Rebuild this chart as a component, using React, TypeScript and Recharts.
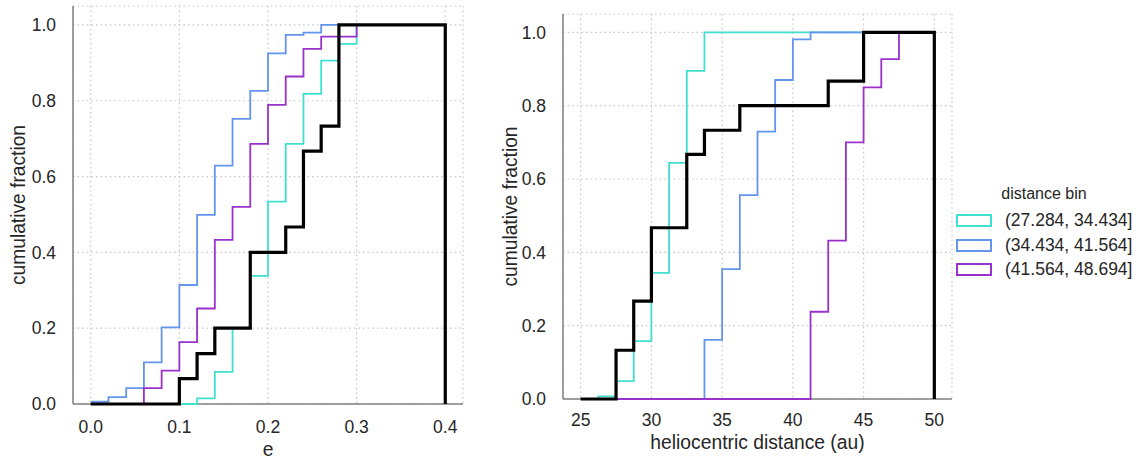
import { CartesianGrid, Line, LineChart, XAxis, YAxis } from "recharts";

// eccentricity bin edges (left panel)
const eEdges = [
  0, 0.02, 0.04, 0.06, 0.08, 0.1, 0.12, 0.14, 0.16, 0.18, 0.2, 0.22, 0.24,
  0.26, 0.28, 0.3, 0.32, 0.34, 0.36, 0.38, 0.4,
];
const eAll = [
  0, 0, 0, 0, 0, 0.067, 0.133, 0.2, 0.2, 0.4, 0.4, 0.467, 0.667, 0.733, 1, 1,
  1, 1, 1, 1,
];
const eNear = [
  0, 0, 0, 0, 0, 0, 0.015, 0.085, 0.2, 0.338, 0.534, 0.686, 0.818, 0.906,
  0.95, 1,
];
const eMid = [
  0.006, 0.018, 0.042, 0.11, 0.202, 0.314, 0.499, 0.629, 0.752, 0.826, 0.925,
  0.974, 0.98, 1, 1, 1,
];
const eFar = [
  0, 0, 0, 0.042, 0.088, 0.163, 0.252, 0.433, 0.52, 0.686, 0.789, 0.864,
  0.937, 0.969, 0.969, 1,
];

// heliocentric distance bin edges (right panel)
const dEdges = [
  25, 26.25, 27.5, 28.75, 30, 31.25, 32.5, 33.75, 35, 36.25, 37.5, 38.75, 40,
  41.25, 42.5, 43.75, 45, 46.25, 47.5, 48.75, 50,
];
const dAll = [
  0, 0, 0.133, 0.267, 0.467, 0.467, 0.667, 0.733, 0.733, 0.8, 0.8, 0.8, 0.8,
  0.8, 0.867, 0.867, 1, 1, 1, 1,
];
const dNear = [
  0, 0.007, 0.049, 0.158, 0.344, 0.644, 0.895, 1, 1, 1, 1, 1, 1, 1, 1, 1, 1,
  1, 1,
];
const dMid = [
  0, 0, 0, 0, 0, 0, 0, 0.161, 0.354, 0.556, 0.729, 0.87, 0.981, 1, 1, 1, 1, 1,
  1,
];
const dFar = [
  0, 0, 0, 0, 0, 0, 0, 0, 0, 0, 0, 0, 0, 0.238, 0.432, 0.7, 0.85, 0.927, 1,
];

const binLabels = ["(27.284, 34.434]", "(34.434, 41.564]", "(41.564, 48.694]"];
const binColors = ["#40e0d0", "#6495ed", "#9932cc"];

const eTicks = [0, 0.1, 0.2, 0.3, 0.4];
const dTicks = [25, 30, 35, 40, 45, 50];
const fracTicks = [0, 0.2, 0.4, 0.6, 0.8, 1.0];

const TEXT = "#262626";
const SPINE = "#808080";
const TICK_FONT = 17.5;
const LABEL_FONT = 19.3;

// outline of a step histogram: (edge_i, h_i) ... last edge, optionally back to 0
function steps(edges: number[], heights: number[], closed = false) {
  const pts = heights.map((h, i) => ({ x: edges[i], y: h }));
  const end = edges[heights.length];
  pts.push({ x: end, y: heights[heights.length - 1] });
  if (closed) pts.push({ x: end, y: 0 });
  return pts;
}

// rotated y label; textLength pins its run to the reference span
function yLabel(offset: number) {
  return function YLabel({ viewBox }: any) {
    const cx = viewBox.x + offset;
    const cy = viewBox.y + viewBox.height / 2;
    return (
      <text
        x={cx}
        y={cy}
        transform={`rotate(-90 ${cx} ${cy})`}
        textAnchor="middle"
        dominantBaseline="central"
        fill={TEXT}
        fontSize={LABEL_FONT}
        textLength={160}
        lengthAdjust="spacingAndGlyphs"
      >
        cumulative fraction
      </text>
    );
  };
}

interface PanelProps {
  left: number;
  top: number;
  width: number;
  height: number;
  margin: { top: number; right: number; bottom: number; left: number };
  xDomain: [number, number];
  xTicks: number[];
  xFormat: (v: number) => string;
  xLabel: string;
  xAxisHeight: number;
  xTickMargin: number;
  xLabelOffset: number;
  yAxisWidth: number;
  yTickMargin: number;
  yLabelOffset: number;
  colored: { x: number; y: number }[][];
  total: { x: number; y: number }[];
}

function Panel(p: PanelProps) {
  return (
    <div style={{ position: "absolute", left: p.left, top: p.top }}>
      <LineChart width={p.width} height={p.height} margin={p.margin}>
        <CartesianGrid stroke="#c8c8c8" strokeDasharray="1.6 3" strokeWidth={1.2} />
        <XAxis
          type="number"
          dataKey="x"
          domain={p.xDomain}
          ticks={p.xTicks}
          tickFormatter={p.xFormat}
          height={p.xAxisHeight}
          tickLine={false}
          tickSize={0}
          tickMargin={p.xTickMargin}
          axisLine={{ stroke: SPINE, strokeWidth: 1.5 }}
          tick={{ fill: TEXT, fontSize: TICK_FONT }}
          label={{
            value: p.xLabel,
            position: "insideBottom",
            offset: p.xLabelOffset,
            fill: TEXT,
            fontSize: LABEL_FONT,
            style: { fontSize: LABEL_FONT },
          }}
        />
        <YAxis
          type="number"
          domain={[0, 1.05]}
          ticks={fracTicks}
          tickFormatter={(v: number) => v.toFixed(1)}
          width={p.yAxisWidth}
          tickLine={false}
          tickSize={0}
          tickMargin={p.yTickMargin}
          axisLine={{ stroke: SPINE, strokeWidth: 1.5 }}
          tick={{ fill: TEXT, fontSize: TICK_FONT }}
          label={{ content: yLabel(p.yLabelOffset) }}
        />
        {p.colored.map((pts, i) => (
          <Line
            key={binLabels[i]}
            data={pts}
            dataKey="y"
            type="stepAfter"
            stroke={binColors[i]}
            strokeWidth={1.8}
            dot={false}
            activeDot={false}
            zIndex={600 + i}
            isAnimationActive={false}
          />
        ))}
        <Line
          data={p.total}
          dataKey="y"
          type="stepAfter"
          stroke="#000000"
          strokeWidth={3.2}
          dot={false}
          activeDot={false}
          zIndex={610}
          isAnimationActive={false}
        />
      </LineChart>
    </div>
  );
}

export default function App() {
  return (
    <div
      style={{
        position: "absolute",
        left: 0,
        top: 0,
        width: 1142,
        height: 462,
        background: "#ffffff",
        fontFamily: '"Liberation Sans", Arial, sans-serif',
        overflow: "hidden",
      }}
    >
      <Panel
        left={0}
        top={0}
        width={470}
        height={462}
        margin={{ top: 6, right: 7, bottom: 0, left: 0 }}
        xDomain={[-0.02, 0.42]}
        xTicks={eTicks}
        xFormat={(v) => v.toFixed(1)}
        xLabel="e"
        xAxisHeight={58}
        xTickMargin={17}
        xLabelOffset={6}
        yAxisWidth={73}
        yTickMargin={17}
        yLabelOffset={18.5}
        colored={[
          steps(eEdges, eNear),
          steps(eEdges, eMid),
          steps(eEdges, eFar),
        ]}
        total={steps(eEdges, eAll, true)}
      />
      <Panel
        left={480}
        top={0}
        width={480}
        height={462}
        margin={{ top: 14, right: 8, bottom: 0, left: 0 }}
        xDomain={[23.75, 51.25]}
        xTicks={dTicks}
        xFormat={(v) => String(v)}
        xLabel="heliocentric distance (au)"
        xAxisHeight={63}
        xTickMargin={15}
        xLabelOffset={13}
        yAxisWidth={83}
        yTickMargin={17}
        yLabelOffset={30}
        colored={[
          steps(dEdges, dNear),
          steps(dEdges, dMid),
          steps(dEdges, dFar),
        ]}
        total={steps(dEdges, dAll, true)}
      />
      <div
        style={{
          position: "absolute",
          left: 956,
          top: 184,
          color: TEXT,
        }}
      >
        <div
          style={{
            fontSize: 16,
            textAlign: "center",
            width: 176,
            lineHeight: "20px",
            marginBottom: 4,
          }}
        >
          distance bin
        </div>
        {binLabels.map((lab, i) => (
          <div
            key={lab}
            style={{
              display: "flex",
              alignItems: "center",
              height: 24.7,
              fontSize: 17.5,
              whiteSpace: "nowrap",
            }}
          >
            <div
              style={{
                width: 32,
                height: 9,
                border: `2px solid ${binColors[i]}`,
                marginRight: 13,
              }}
            />
            {lab}
          </div>
        ))}
      </div>
    </div>
  );
}
